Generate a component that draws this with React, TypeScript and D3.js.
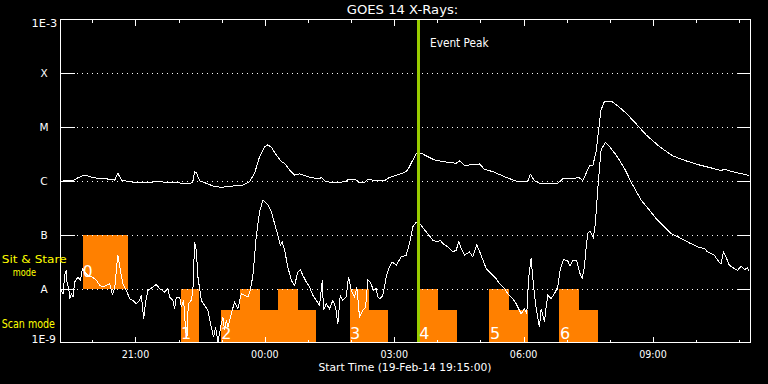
import React from "react";
import * as d3 from "d3";

// ---------- data ----------
const startTime = new Date(2014, 1, 19, 19, 15, 0);
const spanMinutes = 16 * 60;
const titleText = "GOES 14 X-Rays:";
const xAxisTitle = "Start Time (19-Feb-14 19:15:00)";
const eventPeakMinute = 499; // 03:34
const eventLabel = "Event Peak";

const decadeValues = [1e-9, 1e-8, 1e-7, 1e-6, 1e-5, 1e-4, 1e-3];
const decadeLabels = ["1E-9", "A", "B", "C", "M", "X", "1E-3"];

// [minutes since start, flux W/m^2]
const longChannel: [number, number][] = [
  [0, 9.7e-7], [8.9, 1.04e-6], [17.7, 1.01e-6], [24.6, 1.14e-6], [32, 1.26e-6], [36.7, 1.26e-6],
  [45.9, 1.15e-6], [69.1, 1.08e-6], [76.1, 1.04e-6], [80.6, 1.39e-6], [85.4, 1.04e-6], [92.3, 1.0e-6],
  [106.2, 9.3e-7], [138.6, 9.7e-7], [152.5, 9.3e-7], [180.3, 9.06e-7], [184.5, 9.3e-7], [187.3, 1.49e-6],
  [189.7, 1.43e-6], [194.3, 1.01e-6], [203.6, 9.06e-7], [212.7, 8.07e-7], [224.4, 7.64e-7], [240.6, 8.07e-7],
  [254.5, 8.43e-7], [263.8, 9.7e-7], [270.7, 1.39e-6], [277.7, 2.83e-6], [284.6, 4.34e-6], [289.2, 4.67e-6],
  [294, 4.23e-6], [300.9, 3.04e-6], [307.9, 2.29e-6], [312.5, 2.13e-6], [319.4, 1.6e-6], [326.4, 1.29e-6],
  [333.3, 1.35e-6], [340.3, 1.26e-6], [347.2, 1.17e-6], [361.1, 1.09e-6], [363.5, 1.17e-6], [368.1, 1.01e-6],
  [377.4, 9.3e-7], [398.2, 9.7e-7], [400.5, 1.08e-6], [412.2, 1.04e-6], [416.7, 9.3e-7], [423.7, 9.3e-7],
  [428.3, 1.08e-6], [440, 1.01e-6], [451.5, 1.01e-6], [458.5, 1.17e-6], [472.4, 1.33e-6], [481.7, 1.49e-6],
  [486.3, 1.85e-6], [490.9, 2.45e-6], [495.6, 3.18e-6], [502.5, 3.27e-6], [509.5, 2.92e-6], [521, 2.45e-6],
  [537.3, 2.25e-6], [551.2, 2.13e-6], [555.8, 2.36e-6], [562.7, 1.96e-6], [579, 2.01e-6], [583.6, 2.07e-6],
  [590.5, 1.65e-6], [602.1, 1.49e-6], [620.7, 1.17e-6], [636.8, 9.7e-7], [650.7, 9.9e-7], [654.5, 1.33e-6],
  [660.1, 1.01e-6], [667, 9.06e-7], [692.5, 9.06e-7], [699.4, 1.09e-6], [722.6, 1.15e-6], [727.2, 1.01e-6],
  [736.6, 1.9e-6], [741.2, 1.9e-6], [745.9, 3.5e-6], [750.5, 1.18e-5], [752.8, 2.08e-5], [757.4, 2.97e-5],
  [766.7, 3.03e-5], [775.9, 2.47e-5], [787.6, 1.81e-5], [801.5, 1.15e-5], [815.4, 7.16e-6], [833.9, 4.34e-6],
  [852.4, 2.92e-6], [871, 2.36e-6], [889.5, 1.98e-6], [908, 1.72e-6], [919.7, 1.56e-6], [924.3, 1.65e-6],
  [935.8, 1.49e-6], [959, 1.26e-6],
];

const shortChannel: [number, number][] = [
  [0, 8.2e-9], [1.9, 9.45e-9], [4.2, 8.2e-9], [6.5, 1.79e-8], [8.9, 2.22e-8], [9.7, 1.35e-8], [12.5, 9.45e-9],
  [13.5, 6.62e-9], [15.9, 8.2e-9], [18.1, 7.09e-9], [20.4, 1.35e-8], [25, 1.67e-8], [28.4, 1.45e-8],
  [31.1, 2.39e-8], [34.3, 2.07e-8], [38.9, 1.79e-8], [45.9, 1.63e-8], [50.6, 1.45e-8], [55.2, 1.17e-8],
  [59.8, 1.09e-8], [64.5, 1.17e-8], [69.1, 1.26e-8], [72.9, 7.96e-9], [76.1, 1.02e-8], [79.3, 2.96e-8],
  [80.6, 4.22e-8], [84, 2.22e-8], [87.6, 1.26e-8], [92.3, 9.45e-9], [96.9, 6.62e-9], [101.5, 6.16e-9],
  [106.2, 5.35e-9], [110.8, 6.16e-9], [113.2, 7.63e-9], [116.4, 2.82e-9], [119.2, 5.73e-9], [122.4, 9.45e-9],
  [129.3, 1.09e-8], [134, 1.21e-8], [138.6, 1.02e-8], [145.6, 8.78e-9], [150.2, 1.02e-8], [152.5, 7.09e-9],
  [157.1, 6.16e-9], [159.5, 4.32e-9], [161.9, 7.09e-9], [166.5, 7.09e-9], [168.8, 4.62e-9], [172, 6.16e-9],
  [174.8, 1.71e-9], [176.6, 1.2e-9], [178.5, 5.35e-9], [182.7, 6.16e-9], [184.9, 9.45e-9], [187.3, 7.46e-8],
  [189.7, 5.23e-8], [191.9, 1.67e-8], [196.6, 6.16e-9], [201.2, 4.97e-9], [205.8, 4.02e-9], [210.5, 1.97e-9],
  [213.7, 1.28e-9], [216.5, 1.97e-9], [219.7, 1.03e-9], [224.4, 2.27e-9], [226.7, 3.02e-9], [229, 1.71e-9],
  [231.4, 2.62e-9], [233.6, 1.97e-9], [238.3, 3.49e-9], [242.9, 5.73e-9], [247.5, 4.32e-9], [252.2, 8.2e-9],
  [256.8, 7.63e-9], [261.4, 7.09e-9], [264.8, 9.45e-9], [268.4, 1.79e-8], [273.1, 9.51e-8], [277.7, 2.69e-7],
  [282.3, 4.44e-7], [289.2, 3.58e-7], [294, 2.69e-7], [298.5, 1.64e-7], [303.1, 9.93e-8], [306.5, 6.48e-8],
  [309.2, 7.46e-8], [312.5, 5.23e-8], [317, 2.56e-8], [321.8, 1.45e-8], [326.4, 1.17e-8], [330.9, 2.07e-8],
  [334.3, 2.29e-8], [337.9, 1.79e-8], [342.6, 1.35e-8], [347.2, 1.09e-8], [351.8, 7.63e-9], [356.5, 6.16e-9],
  [361.1, 4.97e-9], [364.9, 1.45e-8], [366.7, 4.02e-9], [370.4, 5.35e-9], [375, 4.32e-9], [379.6, 6.16e-9],
  [383.4, 4.62e-9], [386.6, 2.27e-9], [389.9, 7.63e-9], [393.5, 6.16e-9], [398.2, 7.09e-9], [401.4, 1.67e-8],
  [405.2, 9.45e-9], [409.8, 7.09e-9], [413, 1.09e-8], [416.7, 3.02e-9], [421.3, 4.02e-9], [425.1, 4.62e-9],
  [428.3, 1.45e-8], [431.6, 1.35e-8], [436.2, 9.45e-9], [440, 1.02e-8], [442.2, 7.09e-9], [445.5, 6.62e-9],
  [449.1, 7.63e-9], [451.5, 1.09e-8], [453.8, 1.67e-8], [457.5, 2.39e-8], [462.2, 3.17e-8], [467.8, 2.75e-8],
  [474.7, 3.93e-8], [481.7, 4.22e-8], [486.3, 6.96e-8], [490.9, 1.42e-7], [495.6, 1.71e-7], [500.2, 1.64e-7],
  [509.5, 1.14e-7], [518.7, 8.02e-8], [525.6, 7.46e-8], [528.9, 8.02e-8], [532.6, 6.96e-8], [539.5, 6.02e-8],
  [546.5, 4.86e-8], [551.2, 5.23e-8], [554.8, 7.46e-8], [558.2, 5.62e-8], [562.7, 4.22e-8], [569.7, 4.86e-8],
  [574.3, 3.93e-8], [579.8, 6.67e-8], [585.9, 4.22e-8], [592.9, 2.39e-8], [599.9, 1.93e-8], [606.8, 1.56e-8],
  [611.4, 1.26e-8], [618.4, 1.02e-8], [623, 8.2e-9], [629.9, 6.62e-9], [634.6, 5.35e-9], [641.6, 3.49e-9],
  [646.2, 4.32e-9], [649.4, 3.49e-9], [652.1, 1.67e-8], [655.5, 3.67e-8], [657.7, 1.67e-8], [661.5, 5.35e-9],
  [664.7, 3.02e-9], [667, 1.97e-9], [669.4, 4.32e-9], [674, 2.43e-9], [676.3, 4.62e-9], [678.6, 7.63e-9],
  [683.3, 6.62e-9], [687.9, 8.2e-9], [692.5, 1.09e-8], [695.8, 2.22e-8], [700.4, 3.51e-8], [706.4, 3.31e-8],
  [709.7, 2.64e-8], [713.3, 3.41e-8], [718.9, 3.41e-8], [722.6, 2.07e-8], [726.4, 1.56e-8], [729.6, 2.56e-8],
  [731.9, 5.62e-8], [734.2, 1.07e-7], [737.5, 1.19e-7], [742.1, 8.85e-8], [744.9, 1.64e-7], [748.1, 6.81e-7],
  [752.8, 3.77e-6], [758.8, 5.15e-6], [764.4, 4.34e-6], [773.7, 3.04e-6], [785.2, 1.72e-6], [796.8, 8.43e-7],
  [808.5, 4.44e-7], [820, 2.89e-7], [829.3, 2.03e-7], [838.5, 1.52e-7], [850.2, 1.07e-7], [861.7, 9.0e-8],
  [875.6, 7.14e-8], [889.5, 5.87e-8], [896.5, 5.62e-8], [901, 4.86e-8], [910.4, 4.22e-8], [915, 3.41e-8],
  [919.7, 2.87e-8], [922.9, 4.86e-8], [926.6, 3.93e-8], [931.2, 2.75e-8], [938.2, 2.39e-8], [942.8, 2.22e-8],
  [947.5, 2.64e-8], [952.1, 2.29e-8], [956.7, 2.45e-8], [959, 2.13e-8],
];

// Sit & Stare block: [start min, end min, low flux, high flux]
const sitStareLabels = ["0"];
const sitStareBlocks: [number, number, number, number][] = [[31.6, 95.1, 1e-8, 1e-7]];

// Scan mode blocks: label + segments [start min, end min, top flux]
const scanLabels = ["1", "2", "3", "4", "5", "6"];
const scanSegments: [number, number, number][][] = [
  [[167.8, 193.8, 1e-8]],
  [[223.5, 249.9, 4e-9], [249.9, 277.7, 1e-8], [277.7, 302.7, 4e-9], [302.7, 330.5, 1e-8], [330.5, 356.5, 4e-9]],
  [[402.8, 430.6, 1e-8], [430.6, 456.6, 4e-9]],
  [[499.2, 526.2, 1e-8], [526.2, 553.0, 4e-9]],
  [[597.5, 625.3, 1e-8], [625.3, 651.7, 4e-9]],
  [[694.8, 722.6, 1e-8], [722.6, 749.1, 4e-9]],
];
const scanFloor = 1e-9;

// ---------- styles ----------
const W = 768;
const H = 384;
const plotL = 60, plotR = 750, plotT = 19, plotB = 343;
const FONT = "'DejaVu Sans', sans-serif";
const ORANGE = "#ff8000";
const YELLOW = "#ffff00";
const GREEN = "#99cc00";

export default function App() {
  const toDate = (m: number) => new Date(startTime.getTime() + m * 60000);
  const x = d3.scaleTime().domain([startTime, toDate(spanMinutes)]).range([plotL, plotR]);
  const y = d3.scaleLog().domain([1e-9, 1e-3]).range([plotB, plotT]);
  const line = d3
    .line<[number, number]>()
    .x((d) => x(toDate(d[0])))
    .y((d) => y(d[1]));

  const hourTicks = d3.timeHour.every(1)!.range(startTime, toDate(spanMinutes));
  const isMajor = (d: Date) => d.getHours() % 3 === 0;
  const majorTicks = hourTicks.filter(isMajor);
  const fmt = d3.timeFormat("%H:%M");

  const mx = (m: number) => x(toDate(m));
  const axisBottom = plotB - 0.5;

  return (
    <svg
      width={W}
      height={H}
      style={{ position: "absolute", left: 0, top: 0, background: "#000" }}
      fontFamily={FONT}
    >
      <defs>
        <clipPath id="plotClip">
          <rect x={plotL} y={plotT} width={plotR - plotL} height={axisBottom - plotT} />
        </clipPath>
      </defs>
      <rect x={0} y={0} width={W} height={H} fill="#000" />

      {/* observing mode blocks */}
      <g clipPath="url(#plotClip)" shapeRendering="crispEdges">
        {sitStareBlocks.map(([s, e, lo, hi], i) => (
          <rect key={"ss" + i} x={mx(s)} y={y(hi)} width={mx(e) - mx(s)} height={y(lo) - y(hi)} fill={ORANGE} />
        ))}
        {scanSegments.map((segs, i) =>
          segs.map(([s, e, top], j) => (
            <rect key={"sc" + i + "-" + j} x={mx(s)} y={y(top)} width={mx(e) - mx(s)} height={y(scanFloor) - y(top)} fill={ORANGE} />
          ))
        )}
      </g>

      {/* grid lines */}
      <g shapeRendering="crispEdges" stroke="#fff" strokeWidth={1}>
        {decadeValues.slice(1, -1).map((v, i) => {
          const yy = Math.round(y(v)) + 0.5;
          return (
            <g key={"g" + i}>
              <line x1={plotL} x2={plotL + 15} y1={yy} y2={yy} />
              <line x1={plotR - 13} x2={plotR + 1} y1={yy} y2={yy} />
              <line x1={plotL + 17} x2={plotR - 14} y1={yy} y2={yy} strokeDasharray="1 4" />
            </g>
          );
        })}
      </g>

      {/* curves */}
      <g clipPath="url(#plotClip)" fill="none" stroke="#fff" strokeWidth={1} shapeRendering="crispEdges">
        <path d={line(longChannel) || ""} />
        <path d={line(shortChannel) || ""} />
      </g>

      {/* event peak */}
      <line
        x1={mx(eventPeakMinute)}
        x2={mx(eventPeakMinute)}
        y1={plotT}
        y2={axisBottom}
        stroke={GREEN}
        strokeWidth={3}
        shapeRendering="crispEdges"
      />
      <text x={430} y={46.5} fill="#fff" fontSize={11.5} textLength={58.7} lengthAdjust="spacingAndGlyphs">
        {eventLabel}
      </text>

      {/* block labels */}
      {sitStareBlocks.map(([s, , lo], i) => (
        <text key={"ssl" + i} x={mx(s)} y={y(lo) - 12} fill="#fff" fontSize={15.5}>
          {sitStareLabels[i]}
        </text>
      ))}
      {scanSegments.map((segs, i) => (
        <text key={"scl" + i} x={mx(segs[0][0]) + 0.5} y={338.8} fill="#fff" fontSize={16}>
          {scanLabels[i]}
        </text>
      ))}

      {/* axes box */}
      <g shapeRendering="crispEdges" stroke="#fff" strokeWidth={1} fill="none">
        <line x1={plotL + 0.5} x2={plotL + 0.5} y1={plotT} y2={axisBottom + 0.5} />
        <line x1={plotR + 0.5} x2={plotR + 0.5} y1={plotT} y2={axisBottom + 0.5} />
        <line x1={plotL} x2={plotR + 1} y1={plotT + 0.5} y2={plotT + 0.5} />
        <line x1={plotL} x2={plotR + 1} y1={axisBottom} y2={axisBottom} />
        {hourTicks.map((d, i) => {
          const xx = Math.round(x(d)) + 0.5;
          const len = isMajor(d) ? 6 : 3;
          return (
            <g key={"t" + i}>
              <line x1={xx} x2={xx} y1={plotT} y2={plotT + 1 + len} />
              <line x1={xx} x2={xx} y1={axisBottom} y2={axisBottom - len} />
            </g>
          );
        })}
      </g>

      {/* x tick labels */}
      {majorTicks.map((d, i) => (
        <text key={"xl" + i} x={x(d)} y={358.3} fill="#fff" fontSize={10} textAnchor="middle" textLength={27.5} lengthAdjust="spacingAndGlyphs">
          {fmt(d)}
        </text>
      ))}
      <text x={405} y={370.7} fill="#fff" fontSize={10.5} textAnchor="middle" textLength={173} lengthAdjust="spacingAndGlyphs">
        {xAxisTitle}
      </text>

      {/* y labels */}
      {decadeValues.map((v, i) => {
        const lab = decadeLabels[i];
        if (i === 0)
          return (
            <text key={"yl" + i} x={56} y={343.3} fill="#fff" fontSize={10.5} textAnchor="end" textLength={24.5} lengthAdjust="spacingAndGlyphs">
              {lab}
            </text>
          );
        if (i === decadeValues.length - 1)
          return (
            <text key={"yl" + i} x={57.3} y={26.7} fill="#fff" fontSize={10.5} textAnchor="end" textLength={25.7} lengthAdjust="spacingAndGlyphs">
              {lab}
            </text>
          );
        return (
          <text key={"yl" + i} x={44} y={Math.round(y(v)) + 4.3} fill="#fff" fontSize={10.5} textAnchor="middle">
            {lab}
          </text>
        );
      })}

      {/* mode legend */}
      <text x={1.7} y={262.5} fill={YELLOW} fontSize={11} textLength={65} lengthAdjust="spacingAndGlyphs">
        Sit &amp; Stare
      </text>
      <text x={24.4} y={276} fill={YELLOW} fontSize={10.5} textAnchor="middle" textLength={23.3} lengthAdjust="spacingAndGlyphs">
        mode
      </text>
      <text x={1.7} y={328.3} fill={YELLOW} fontSize={11.5} textLength={53.3} lengthAdjust="spacingAndGlyphs">
        Scan mode
      </text>

      {/* title */}
      <text x={402.5} y={14} fill="#fff" fontSize={13} textAnchor="middle" textLength={111.6} lengthAdjust="spacingAndGlyphs">
        {titleText}
      </text>
    </svg>
  );
}
